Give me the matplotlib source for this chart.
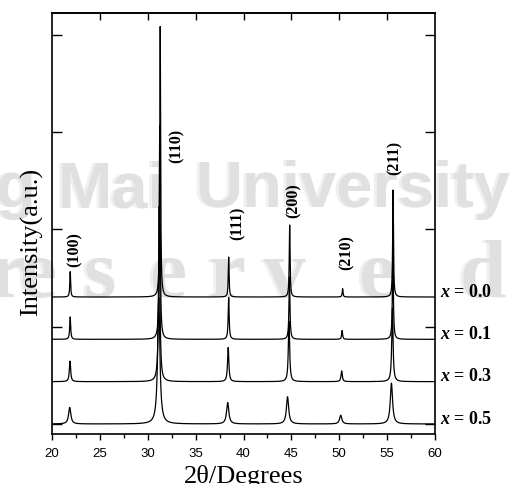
import numpy as np
import matplotlib
matplotlib.use('Agg')
import matplotlib.pyplot as plt

plt.rcParams['font.family'] = 'Liberation Serif'
plt.rcParams['mathtext.fontset'] = 'custom'
plt.rcParams['mathtext.it'] = 'Liberation Serif:italic:bold'
plt.rcParams['mathtext.rm'] = 'Liberation Serif:bold'

# compositions, vertical offsets of each pattern (a.u.)
compositions = ['0.0', '0.1', '0.3', '0.5']
offsets = [1.305, 0.87, 0.435, 0.0]

# reflections
hkl = ['(100)', '(110)', '(111)', '(200)', '(210)', '(211)']
label_x = [22.4, 33.05, 39.4, 45.2, 50.8, 55.8]
label_y = [1.61, 2.68, 1.89, 2.12, 1.58, 2.56]

# peak positions (2theta) for each composition
pos_00 = [21.90, 31.30, 38.45, 44.82, 50.35, 55.62]
pos_01 = [21.90, 31.25, 38.45, 44.80, 50.30, 55.60]
pos_03 = [21.88, 31.20, 38.40, 44.75, 50.25, 55.55]
pos_05 = [21.85, 31.15, 38.35, 44.60, 50.15, 55.45]

# peak heights above baseline
height_00 = [0.26, 2.78, 0.41, 0.74, 0.085, 1.10]
height_01 = [0.23, 2.20, 0.43, 0.64, 0.09, 0.87]
height_03 = [0.21, 1.80, 0.35, 0.62, 0.11, 0.75]
height_05 = [0.17, 1.30, 0.22, 0.28, 0.09, 0.42]

# lorentzian half widths
hwhm = [0.05, 0.06, 0.08, 0.14]

positions = [pos_00, pos_01, pos_03, pos_05]
heights = [height_00, height_01, height_03, height_05]

two_theta = np.arange(20.0, 60.001, 0.01)


def pattern(pos, hts, w):
    y = np.zeros_like(two_theta)
    for p, h in zip(pos, hts):
        y += h / (1.0 + ((two_theta - p) / w) ** 2)
    return y


fig = plt.figure(figsize=(5.23, 4.84), dpi=100)

# background watermark, kept behind the axes
wm_words = [('Chiang', 36, 'right'), ('Mai', 112, 'center'), ('University', 510, 'right')]
wm_letters = list('reserved')
wm_letter_x = [7, 38, 100, 168, 227, 285, 377, 483]
for dx, col, z in [(-3, '#f0f0f0', -3), (0, '#e0e0e0', -2)]:
    for word, wx, ha in wm_words:
        fig.text((wx + dx) / 523, 1 - 207 / 484, word, ha=ha, va='baseline',
                 fontsize=47, fontweight='bold', family='Liberation Sans',
                 color=col, zorder=z)
    for ch, cx in zip(wm_letters, wm_letter_x):
        fig.text((cx + dx) / 523, 1 - 297 / 484, ch, ha='center', va='baseline',
                 fontsize=60, fontweight='bold', color=col, zorder=z)

ax = fig.add_axes([52 / 523, 1 - 434 / 484, 383 / 523, 421 / 484])
ax.patch.set_alpha(0)

for comp, off, pos, hts, w in zip(compositions, offsets, positions, heights, hwhm):
    ax.plot(two_theta, off + pattern(pos, hts, w), color='black', lw=0.9)
    ax.annotate(r'$x$ = ' + comp, xy=(1, off), xycoords=('axes fraction', 'data'),
                xytext=(3.5, 3.5), textcoords='offset points',
                ha='left', va='center', fontsize=13, fontweight='bold',
                annotation_clip=False)

for lab, lx, ly in zip(hkl, label_x, label_y):
    ax.text(lx, ly, lab, rotation=90, ha='center', va='bottom',
            fontsize=11.5, fontweight='bold')

ax.set_xlim(20, 60)
ax.set_ylim(-0.103, 4.224)
ax.set_xticks(np.arange(20, 61, 5))
ax.set_xticks(np.arange(22.5, 60, 5), minor=True)
ax.set_yticks(np.arange(0, 5, 1))
ax.set_yticklabels([])
ax.tick_params(axis='x', which='major', direction='out', length=4, width=1,
               labelsize=9.5, pad=6, top=False)
ax.tick_params(axis='x', which='minor', direction='out', length=3, width=1, top=False)
ax.tick_params(axis='y', direction='in', length=7, width=1, left=True, right=True)
for lab in ax.get_xticklabels():
    lab.set_family('Liberation Sans')

top = ax.secondary_xaxis('top')
top.set_xticks(np.arange(25, 60, 5))
top.tick_params(direction='in', length=5, width=1, labeltop=False)

for sp in ax.spines.values():
    sp.set_linewidth(1.2)
top.spines['top'].set_linewidth(1.2)

fig.text(243.5 / 523, 0.003, '2θ/Degrees', ha='center', va='baseline', fontsize=19)
fig.text(32 / 523, 1 - 242 / 484, 'Intensity(a.u.)', rotation=90,
         ha='center', va='center', fontsize=19)

fig.savefig('out.png', dpi=100)
